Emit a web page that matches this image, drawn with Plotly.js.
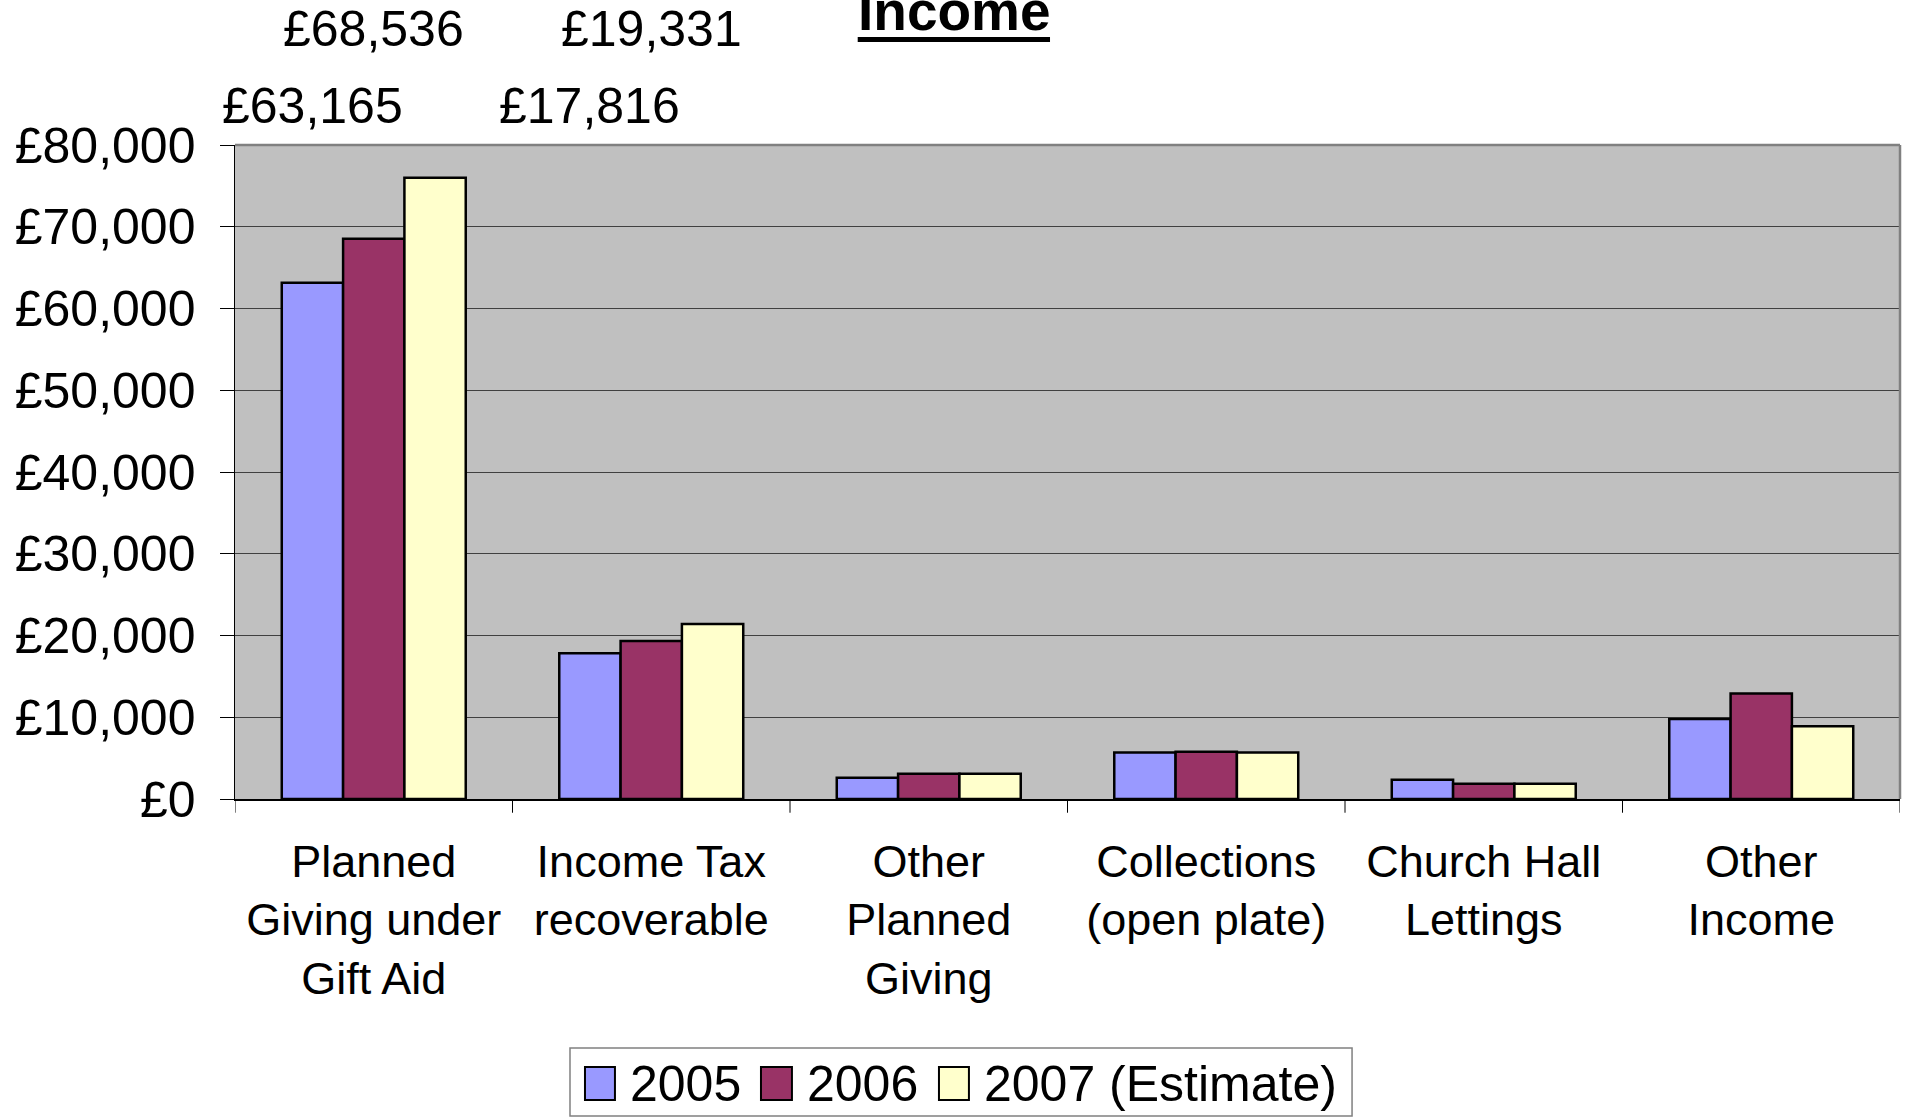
<!DOCTYPE html>
<html>
<head>
<meta charset="utf-8">
<script src="https://cdn.plot.ly/plotly-3.0.1.min.js"></script>
<style>html,body{margin:0;padding:0;background:#fff;}#chart{width:1910px;height:1120px;}</style>
</head>
<body>
<div id="chart"></div>
<script>
const categories = ["Planned<br>Giving under<br>Gift Aid", "Income Tax<br>recoverable", "Other<br>Planned<br>Giving", "Collections<br>(open plate)", "Church Hall<br>Lettings", "Other<br>Income"];
const seriesNames = ["2005", "2006", "2007 (Estimate)"];
const values2005 = [63165, 17816, 2600, 5700, 2350, 9800];
const values2006 = [68536, 19331, 3100, 5780, 1880, 12900];
const values2007 = [76000, 21400, 3100, 5700, 1880, 8900];
const yTickVals = [0, 10000, 20000, 30000, 40000, 50000, 60000, 70000, 80000];
const yTickText = ["£0", "£10,000", "£20,000", "£30,000", "£40,000", "£50,000", "£60,000", "£70,000", "£80,000"];
// stray data labels shown in the original (series index, category index, row)
const labelSeries = [0, 1, 0, 1];
const labelCats = [0, 0, 1, 1];
const labelRow = [1, 0, 1, 0];

const colors = ["#9999FF", "#993366", "#FFFFCC"];
const allValues = [values2005, values2006, values2007];
const FONT = "Liberation Sans, Arial, sans-serif";
const bargap = 0.337;

const catIdx = categories.map((c, i) => i);
const traces = allValues.map((vals, s) => ({
  type: "bar",
  name: seriesNames[s],
  x: catIdx,
  y: vals,
  marker: {color: colors[s], line: {color: "#000000", width: 2.5}},
  hoverinfo: "y",
  showlegend: false
}));

const barW = (1 - bargap) / 3;
const fmt = v => "£" + v.toLocaleString("en-GB");
const annotations = labelSeries.map((s, k) => ({
  xref: "x", yref: "paper",
  x: labelCats[k] + (s - 1) * barW,
  y: labelRow[k] === 1 ? 1.06 : 1.177,
  yanchor: "middle", xanchor: "center",
  text: fmt(allValues[s][labelCats[k]]),
  showarrow: false,
  font: {family: FONT, size: 50, color: "#000"}
}));
annotations.push({
  xref: "paper", yref: "paper", x: 0.432, y: 1.205, xanchor: "center", yanchor: "middle",
  text: "<b>Income</b>", showarrow: false,
  font: {family: FONT, size: 55, color: "#000"}
});

// custom legend (box, swatches, labels)
const legSwatchX = [[0.2102, 0.2282], [0.3159, 0.3345], [0.4228, 0.4408]];
const legTextX = [0.2360, 0.3423, 0.4486];
seriesNames.forEach((n, s) => {
  annotations.push({
    xref: "paper", yref: "paper", x: legTextX[s], y: -0.4358, xanchor: "left", yanchor: "middle",
    text: n, showarrow: false, font: {family: FONT, size: 50, color: "#000"}
  });
});

const shapes = [
  {type: "line", xref: "paper", yref: "paper", x0: 0, x1: 1, y0: 1, y1: 1, line: {color: "#808080", width: 2.5}},
  {type: "line", xref: "paper", yref: "paper", x0: 1, x1: 1, y0: 0, y1: 1, line: {color: "#808080", width: 2.5}},
  {type: "line", xref: "paper", yref: "paper", x0: 0.374, x1: 0.4895, y0: 1.1613, y1: 1.1613, line: {color: "#000", width: 5}},
  {type: "rect", xref: "paper", yref: "paper", x0: 0.2012, x1: 0.6709, y0: -0.4847, y1: -0.3807, line: {color: "#808080", width: 1.5}, fillcolor: "#ffffff"}
];
catIdx.concat([catIdx.length]).forEach(i => shapes.push({
  type: "line", xref: "x", yref: "paper", x0: i - 0.5, x1: i - 0.5, y0: 0, y1: -0.021,
  line: {color: "#000", width: 1}
}));
seriesNames.forEach((n, s) => shapes.push({
  type: "rect", xref: "paper", yref: "paper", x0: legSwatchX[s][0], x1: legSwatchX[s][1], y0: -0.4602, y1: -0.4098,
  fillcolor: colors[s], line: {color: "#000", width: 2}
}));

const layout = {
  width: 1910, height: 1120,
  margin: {l: 235, r: 10, t: 145, b: 321, autoexpand: false},
  paper_bgcolor: "#ffffff",
  plot_bgcolor: "#C0C0C0",
  barmode: "group",
  bargap: bargap,
  bargroupgap: 0,
  showlegend: false,
  xaxis: {
    type: "linear",
    range: [-0.5, 5.5],
    tickvals: catIdx, ticktext: categories,
    showgrid: false, zeroline: false,
    showline: true, linecolor: "#000", linewidth: 1.5,
    ticks: "",
    tickfont: {family: FONT, size: 45, color: "#000"},
    ticklabelstandoff: 22,
    automargin: false,
    fixedrange: true
  },
  yaxis: {
    range: [0, 80000],
    tickvals: yTickVals, ticktext: yTickText,
    showgrid: true, gridcolor: "#404040", gridwidth: 1,
    zeroline: false,
    showline: true, linecolor: "#000", linewidth: 1.5,
    ticks: "outside", ticklen: 14, tickcolor: "#000", tickwidth: 1,
    tickfont: {family: FONT, size: 50, color: "#000"},
    ticklabelstandoff: 14,
    automargin: false,
    fixedrange: true
  },
  annotations: annotations,
  shapes: shapes
};

Plotly.newPlot("chart", traces, layout, {displayModeBar: false, staticPlot: true});
</script>
</body>
</html>
